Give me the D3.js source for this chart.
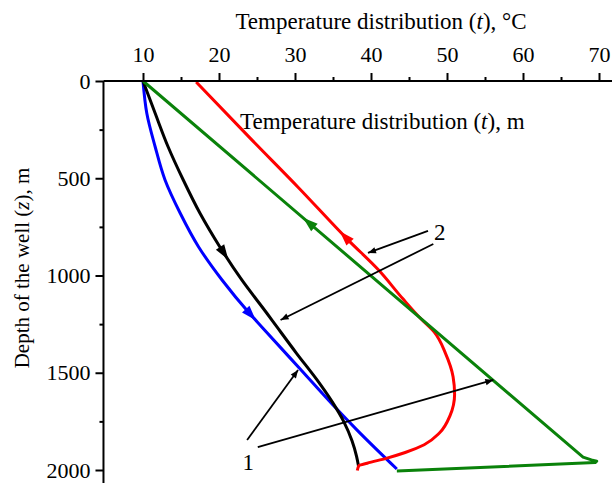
<!DOCTYPE html>
<html><head><meta charset="utf-8">
<script src="https://cdn.jsdelivr.net/npm/d3@7"></script>
<style>
body{margin:0;background:#fff}
text{font-family:"Liberation Serif","Times New Roman",serif;fill:#000}
</style></head><body>
<svg class="chart" width="612" height="483"></svg>
<script>
var xTicks = [10, 20, 30, 40, 50, 60, 70];
var xMinor = [15, 25, 35, 45, 55, 65];
var yTicks = [0, 500, 1000, 1500, 2000];
var yMinor = [250, 750, 1250, 1750];

// [temperature, depth]
var blue = [[10,0],[10.5,166],[11.6,338],[12.9,509],[14.9,680],[17.3,852],[20.4,1023],[24.0,1194],[25.6,1263],[30.8,1486],[35.0,1666],[38.3,1800],[43.4,1995]];
var black = [[10,0],[11.6,166],[13.3,338],[15.3,509],[17.5,680],[20.1,852],[23.0,1023],[26.3,1194],[27.6,1263],[30.2,1400],[32.9,1537],[34.9,1650],[36.4,1750],[37.5,1850],[38.1,1930],[38.35,1978]];
var red = [[17,5],[24,290],[30.5,550],[37,818],[41,972],[44.2,1120],[46.5,1220],[48.3,1290],[49.8,1400],[50.8,1520],[51,1610],[50.4,1720],[49,1810],[47,1870],[44.5,1910],[42,1940],[39.5,1965],[38.4,1978],[38.2,2003]];
var green = [[10,0],[67.9,1934],[69,1948],[69.7,1955],[69.5,1962],[43.4,2005]];

var series = [
  {name: "blue", color: "#0000ff", pts: blue, smooth: true},
  {name: "black", color: "#000000", pts: black, smooth: true},
  {name: "red", color: "#ff0000", pts: red, smooth: true},
  {name: "green", color: "#0a820a", pts: green, smooth: false}
];

// direction arrows on the curves: series, depth, pointing up?
var curveArrows = [
  ["black", 884, false],
  ["blue", 1200, false],
  ["green", 730, true],
  ["red", 802, true]
];

// callouts: label, label position, and lines [from, to] in data units
var labels = [["2", 48.3, 818], ["1", 23.1, 2000]];
var callouts = [
  [[47.5, 771], [39.6, 884]],
  [[48.2, 838], [28.1, 1229]],
  [[23.7, 1846], [30.4, 1486]],
  [[25.1, 1882], [56.1, 1537]]
];

var x = d3.scaleLinear().domain([0, 70]).range([67, 599]);
var y = d3.scaleLinear().domain([0, 2000]).range([81, 470]);

var svg = d3.select('.chart');

svg.append("defs").append("marker")
    .attr("id", "head")
    .attr("markerUnits", "userSpaceOnUse")
    .attr("viewBox", "0 -5 10 10")
    .attr("refX", 10).attr("refY", 0)
    .attr("markerWidth", 11).attr("markerHeight", 8)
    .attr("orient", "auto")
  .append("path")
    .attr("d", "M0,-4L10,0L0,4Z")
    .attr("fill", "#000");

// curves
var line = d3.line()
    .x(function(d) { return x(d[0]); })
    .y(function(d) { return y(d[1]); });

series.forEach(function(s) {
  svg.append("path")
      .attr("d", line.curve(s.smooth ? d3.curveMonotoneY : d3.curveLinear)(s.pts))
      .attr("fill", "none")
      .attr("stroke", s.color)
      .attr("stroke-width", 3)
      .attr("stroke-linejoin", "round");
});

curveArrows.forEach(function(a) {
  var s = series.filter(function(d) { return d.name === a[0]; })[0];
  var p = s.pts;
  for (var i = 0; i < p.length - 1; i++) {
    if (a[1] >= p[i][1] && a[1] <= p[i+1][1]) break;
  }
  var t = (a[1] - p[i][1]) / (p[i+1][1] - p[i][1]);
  var px = x(p[i][0] + t * (p[i+1][0] - p[i][0]));
  var py = y(a[1]);
  var ang = Math.atan2(y(p[i+1][1]) - y(p[i][1]), x(p[i+1][0]) - x(p[i][0])) * 180 / Math.PI;
  if (a[2]) ang += 180;
  svg.append("path")
      .attr("d", "M8,0L-7,-5L-7,5Z")
      .attr("transform", "translate(" + px + "," + py + ") rotate(" + ang + ")")
      .attr("fill", s.color);
});

// callout lines
svg.selectAll(".callout")
    .data(callouts)
    .enter().append("line")
    .attr("x1", function(d) { return x(d[0][0]); })
    .attr("y1", function(d) { return y(d[0][1]); })
    .attr("x2", function(d) { return x(d[1][0]); })
    .attr("y2", function(d) { return y(d[1][1]); })
    .attr("stroke", "#000")
    .attr("stroke-width", 1.8)
    .attr("marker-end", "url(#head)");

svg.selectAll(".lab")
    .data(labels)
    .enter().append("text")
    .attr("x", function(d) { return x(d[1]); })
    .attr("y", function(d) { return y(d[2]); })
    .style("font-size", "23px")
    .text(function(d) { return d[0]; });

// axes
var xLine = [4.8, 72];
svg.append("line")
    .attr("x1", x(xLine[0])).attr("x2", x(xLine[1]))
    .attr("y1", y(0)).attr("y2", y(0))
    .attr("stroke", "#000").attr("stroke-width", 2);
svg.append("line")
    .attr("x1", x(xLine[0])).attr("x2", x(xLine[0]))
    .attr("y1", y(0)).attr("y2", y(2070))
    .attr("stroke", "#000").attr("stroke-width", 2);

svg.append("g")
    .attr("transform", "translate(0," + y(0) + ")")
    .call(d3.axisTop(x).tickValues(xTicks).tickSize(8).tickPadding(11).tickSizeOuter(0));
svg.append("g")
    .attr("transform", "translate(0," + y(0) + ")")
    .call(d3.axisTop(x).tickValues(xMinor).tickSize(4).tickFormat("").tickSizeOuter(0));

svg.append("g")
    .attr("transform", "translate(" + x(xLine[0]) + ",0)")
    .call(d3.axisLeft(y).tickValues(yTicks).tickFormat(d3.format("d")).tickSize(8).tickPadding(5).tickSizeOuter(0));
svg.append("g")
    .attr("transform", "translate(" + x(xLine[0]) + ",0)")
    .call(d3.axisLeft(y).tickValues(yMinor).tickSize(4).tickFormat("").tickSizeOuter(0));

svg.selectAll(".domain").remove();
svg.selectAll(".tick line").attr("stroke", "#000").attr("stroke-width", 2);
svg.selectAll(".tick text")
    .style("font-family", "'Liberation Serif', serif")
    .style("font-size", "22px")
    .attr("fill", "#000");

// titles
var title = svg.append("text")
    .attr("x", 381).attr("y", 29)
    .attr("text-anchor", "middle")
    .style("font-size", "23px");
title.append("tspan").text("Temperature distribution (");
title.append("tspan").style("font-style", "italic").text("t");
title.append("tspan").text("), \u00B0C");

var inner = svg.append("text")
    .attr("x", 240).attr("y", 129)
    .style("font-size", "23px");
inner.append("tspan").text("Temperature distribution (");
inner.append("tspan").style("font-style", "italic").text("t");
inner.append("tspan").text("), m");

var ytitle = svg.append("text")
    .attr("transform", "translate(29,268) rotate(-90)")
    .attr("text-anchor", "middle")
    .style("font-size", "21px");
ytitle.append("tspan").text("Depth of the well (");
ytitle.append("tspan").style("font-style", "italic").text("z");
ytitle.append("tspan").text("), m");
</script>
</body></html>
